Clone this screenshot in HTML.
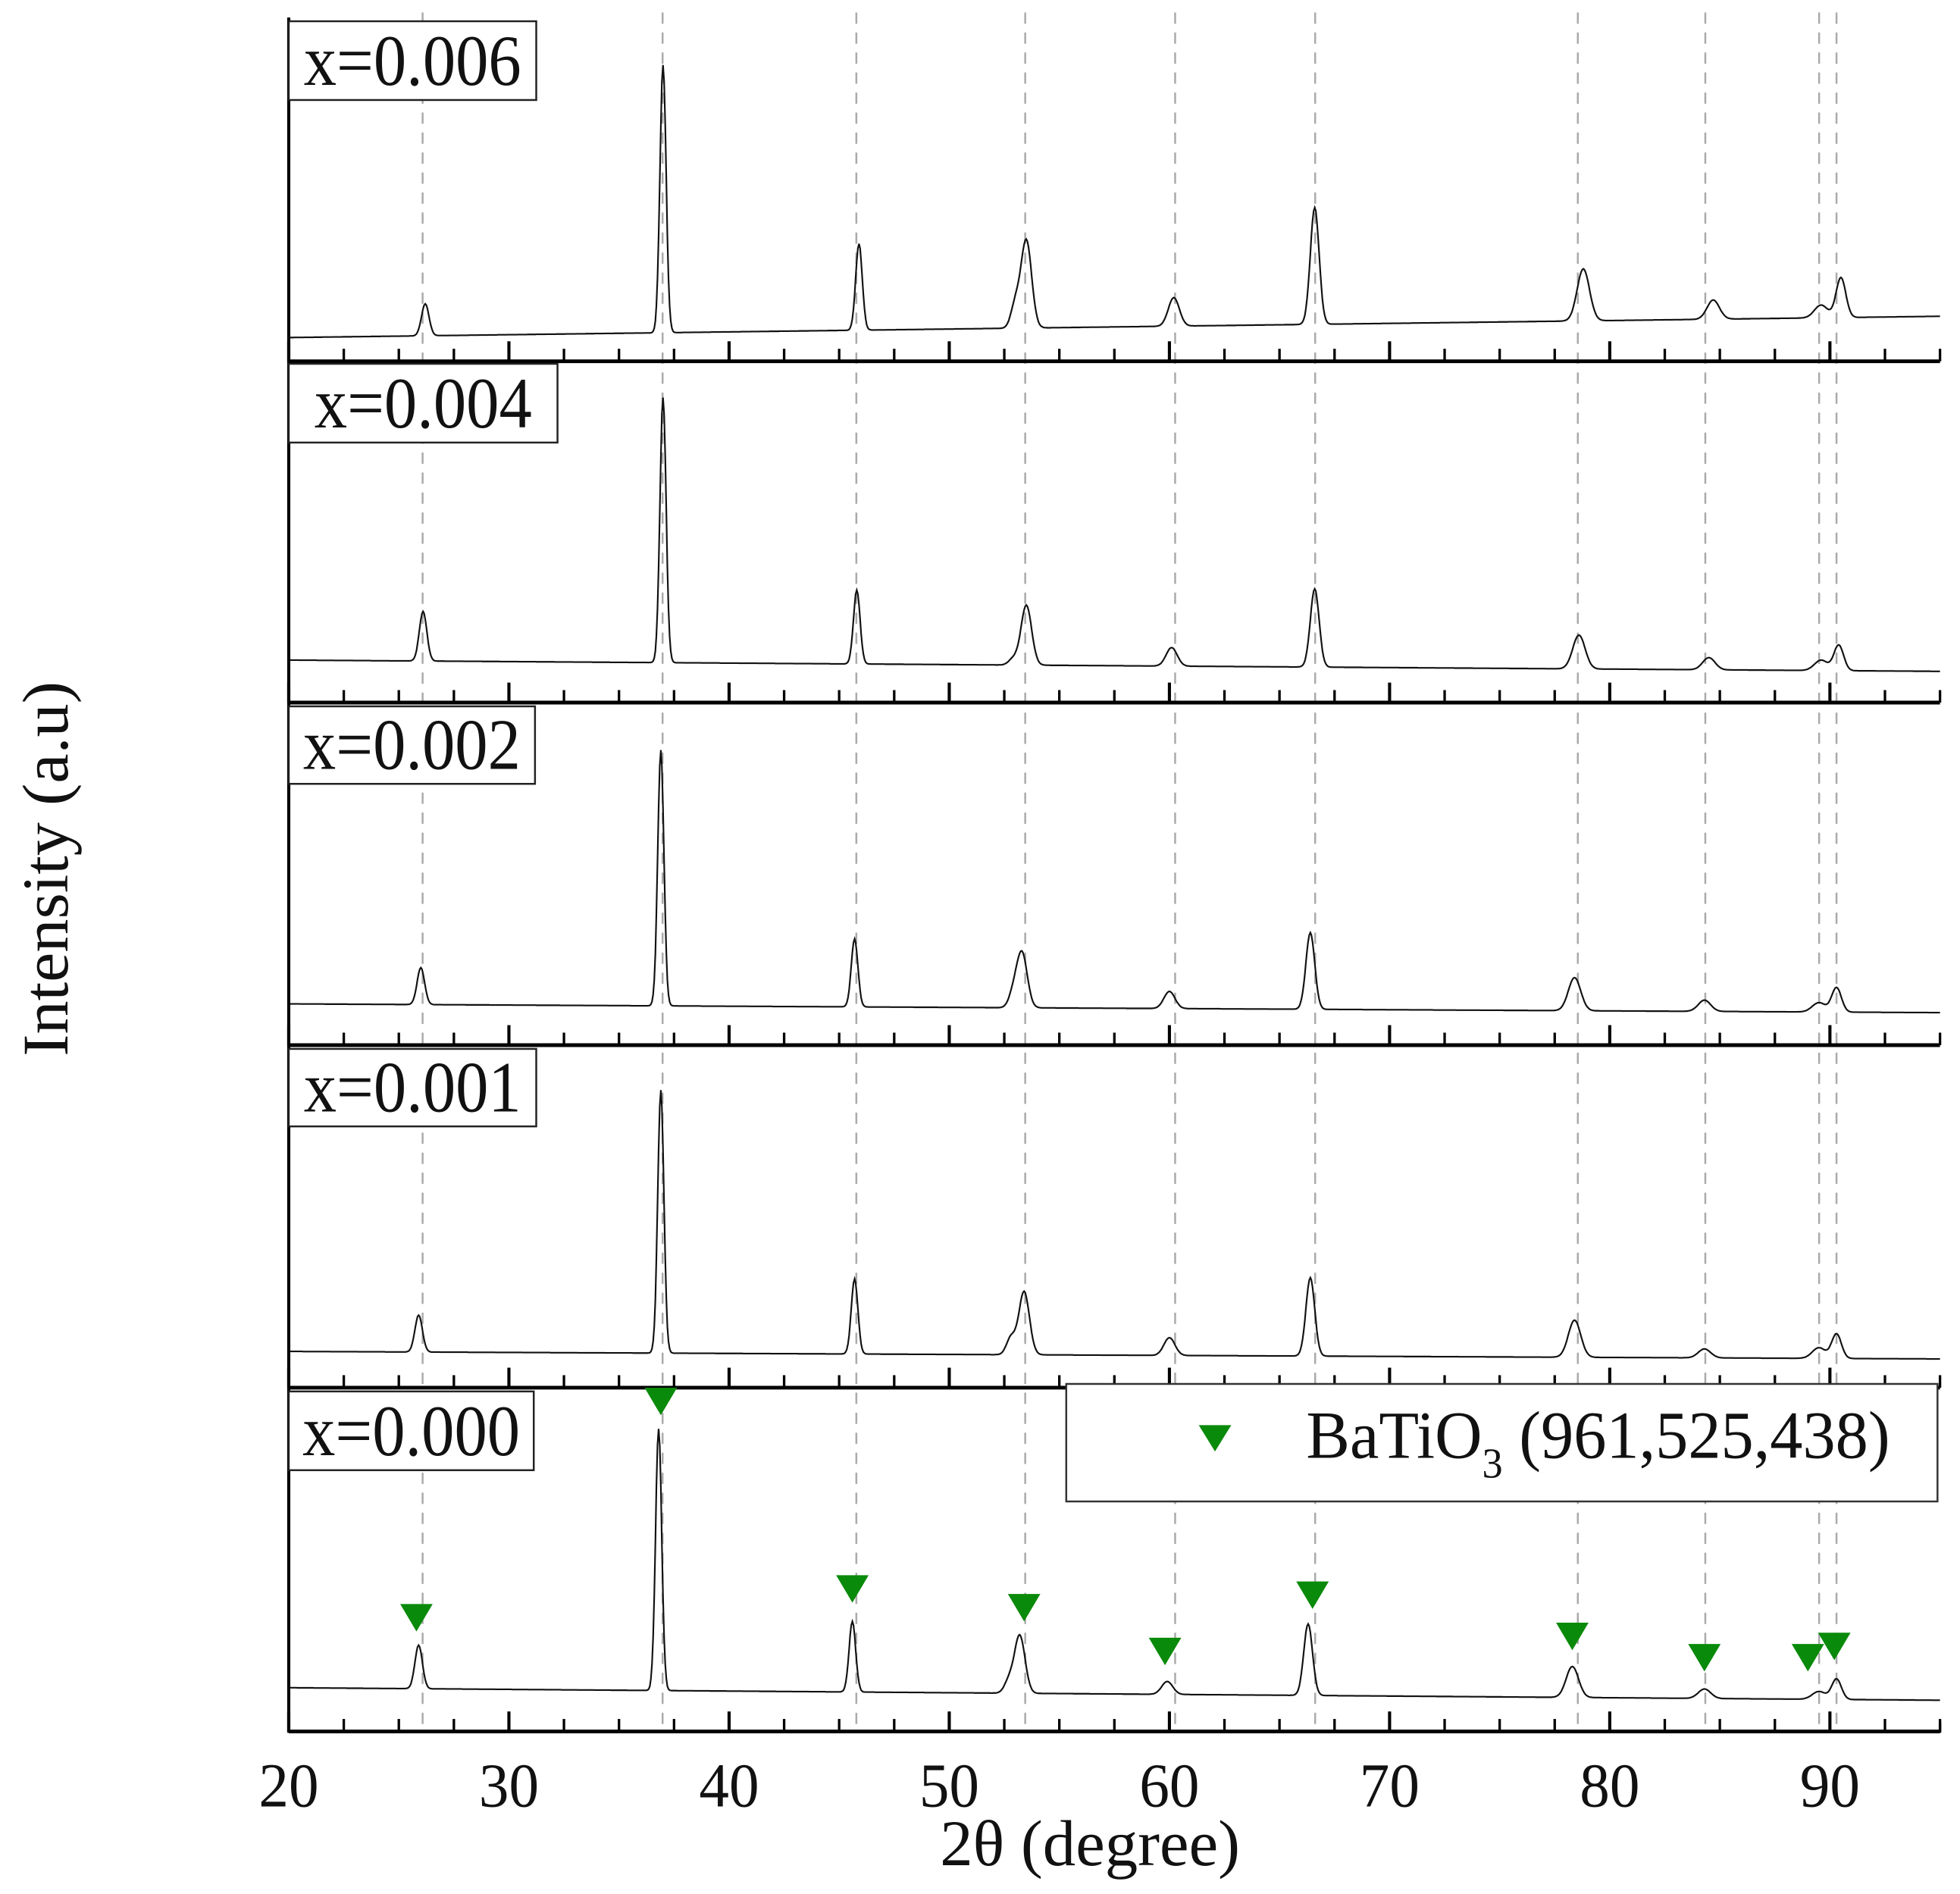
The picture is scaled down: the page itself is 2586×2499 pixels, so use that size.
<!DOCTYPE html>
<html><head><meta charset="utf-8"><style>
html,body{margin:0;padding:0;background:#fff;}
svg{display:block;}
text{font-family:"Liberation Serif",serif;fill:#111;}
</style></head><body>
<svg id="chart" width="2586" height="2499" viewBox="0 0 1568 1515" preserveAspectRatio="none" xmlns="http://www.w3.org/2000/svg">
<g id="grid"></g>
<g id="panels"></g>
<g id="axes"></g>
<g id="marks"></g>
<g id="labels"></g>
<g>
<rect x="853" y="1107" width="697" height="94" fill="#fff" stroke="#333" stroke-width="1.5"/>
<path d="M959,1140 L985,1140 L972,1161 Z" fill="#0a8a0a"/>
<text x="1045" y="1166" font-size="54" textLength="467" lengthAdjust="spacingAndGlyphs">BaTiO<tspan font-size="34" dy="16">3</tspan><tspan dy="-16"> (961,525,438)</tspan></text>
</g>
<text x="872" y="1492" font-size="52" text-anchor="middle" textLength="240" lengthAdjust="spacingAndGlyphs">2θ (degree)</text>
<text transform="translate(54,695) rotate(-90)" font-size="52" text-anchor="middle" textLength="300" lengthAdjust="spacingAndGlyphs">Intensity (a.u)</text>
</svg>
<script>
// ---- data ----
const sampleLabels = ["x=0.006","x=0.004","x=0.002","x=0.001","x=0.000"];
const baselineStart = [19, 34, 33, 29, 35];
const baselineEnd = [36, 25, 26, 23, 25];
const peakPositions = [
 [26.2,37.0,45.9,53.5,60.2,66.6,78.8,84.7,89.6,90.5],
 [26.1,37.0,45.8,53.5,60.1,66.6,78.6,84.5,89.6,90.4],
 [26.0,36.9,45.7,53.3,60.0,66.4,78.4,84.3,89.5,90.3],
 [25.9,36.9,45.7,53.4,60.0,66.4,78.4,84.3,89.5,90.3],
 [25.9,36.8,45.6,53.2,59.9,66.3,78.3,84.3,89.5,90.3]
];
const peakIntensity = [
 [46,237,94,97,51,123,74,49,45,67],
 [73,244,90,78,44,91,54,36,34,46],
 [62,236,85,74,43,90,54,36,34,46],
 [58,238,87,77,40,88,54,31,32,43],
 [69,242,88,77,40,86,52,34,32,42]
];
const peakWidths = [0.17,0.14,0.15,0.24,0.25,0.2,0.28,0.28,0.3,0.22];
const shoulderPos = [53.0,52.9,52.9,52.8,52.7];
const shoulderInt = [45,35,40,40,40];
const refLines = [26.08,36.98,45.78,53.45,60.26,66.62,78.55,84.34,89.51,90.3];
const markerPositions = [25.8,36.9,45.6,53.4,59.8,66.5,78.3,84.3,89.0,90.2];
const markerIntensity = [72,245,95,80,45,90,57,40,40,49];
const xTicks = [20,30,40,50,60,70,80,90];
// ---- layout ----
const X0=231, X1=1552, XMIN=20, XMAX=95;
const panelTop=[15,289,562,836,1110], panelBottom=[289,562,836,1110,1385];
const boxes=[[231,17,198,63],[231,291,215,63],[231,565,197,62],[231,839,198,62],[231,1113,196,63]];
const sx = v => X0 + (v-XMIN)/(XMAX-XMIN)*(X1-X0);
const NS="http://www.w3.org/2000/svg";
function mk(tag, attrs, parent){const e=document.createElementNS(NS,tag);for(const k in attrs)e.setAttribute(k,attrs[k]);parent.appendChild(e);return e;}
const grid=document.getElementById('grid'), panels=document.getElementById('panels'), axes=document.getElementById('axes'), marks=document.getElementById('marks'), labels=document.getElementById('labels');
refLines.forEach(v=>{
 const l=mk('line',{x1:sx(v),x2:sx(v),y1:10,y2:1385,stroke:'#aaa','stroke-width':1.5,'stroke-dasharray':'9,7'},grid);
 
 
});
sampleLabels.forEach((lab,p)=>{
 const sy = v => panelBottom[p] - v;
 let d='';
 for(let x=XMIN;x<=XMAX+1e-9;x+=0.05){
  const t=(x-XMIN)/(XMAX-XMIN);
  const base=baselineStart[p]+(baselineEnd[p]-baselineStart[p])*t;
  let I=base;
  peakPositions[p].forEach((c,i)=>{const a=peakIntensity[p][i]-base;const w=peakWidths[i];I+=a*Math.exp(-0.5*((x-c)/w)**2);});
  I+=(shoulderInt[p]-base)*Math.exp(-0.5*((x-shoulderPos[p])/0.2)**2);
  d+=(d?'L':'M')+sx(x).toFixed(1)+','+sy(I).toFixed(1);
 }
 const path=mk('path',{d:d,fill:'none',stroke:'#111','stroke-width':1.3},panels);
 
 
 const ax=mk('line',{x1:X0,x2:X1,y1:panelBottom[p],y2:panelBottom[p],stroke:'#000','stroke-width':3},axes);
 
 
 for(let v=20;v<=95;v+=2.5){
  const major=(v%10===0);
  const tk=mk('line',{x1:sx(v),x2:sx(v),y1:panelBottom[p],y2:panelBottom[p]-(major?16:10),stroke:'#000','stroke-width':major?2.5:2},axes);
  
  
 }
 const b=boxes[p];
 const r=mk('rect',{x:b[0],y:b[1],width:b[2],height:b[3],fill:'#fff',stroke:'#222','stroke-width':1.5},labels);
 
 
 const tx=mk('text',{x:b[0]+b[2]/2,y:b[1]+b[3]-12,'font-size':58,'text-anchor':'middle',textLength:174,lengthAdjust:'spacingAndGlyphs'},labels);
 tx.textContent=lab;
 
 
});
const la=mk('line',{x1:X0,x2:X0,y1:14,y2:1386,stroke:'#000','stroke-width':2.5},axes);


const ra=mk('line',{x1:X1,x2:X1,y1:1378,y2:1386,stroke:'#000','stroke-width':2},axes);


xTicks.forEach(v=>{
 const t=mk('text',{x:sx(v),y:1445,'font-size':50,'text-anchor':'middle',textLength:48,lengthAdjust:'spacingAndGlyphs'},axes);
 t.textContent=v;
 
 
});
markerPositions.forEach((v,i)=>{
 const cx=sx(v), ty=panelBottom[4]-markerIntensity[i]-30;
 const m=mk('path',{d:`M${cx-13},${ty} L${cx+13},${ty} L${cx},${ty+22} Z`,fill:'#0a8a0a'},marks);
 
 
});
</script>
</body></html>
